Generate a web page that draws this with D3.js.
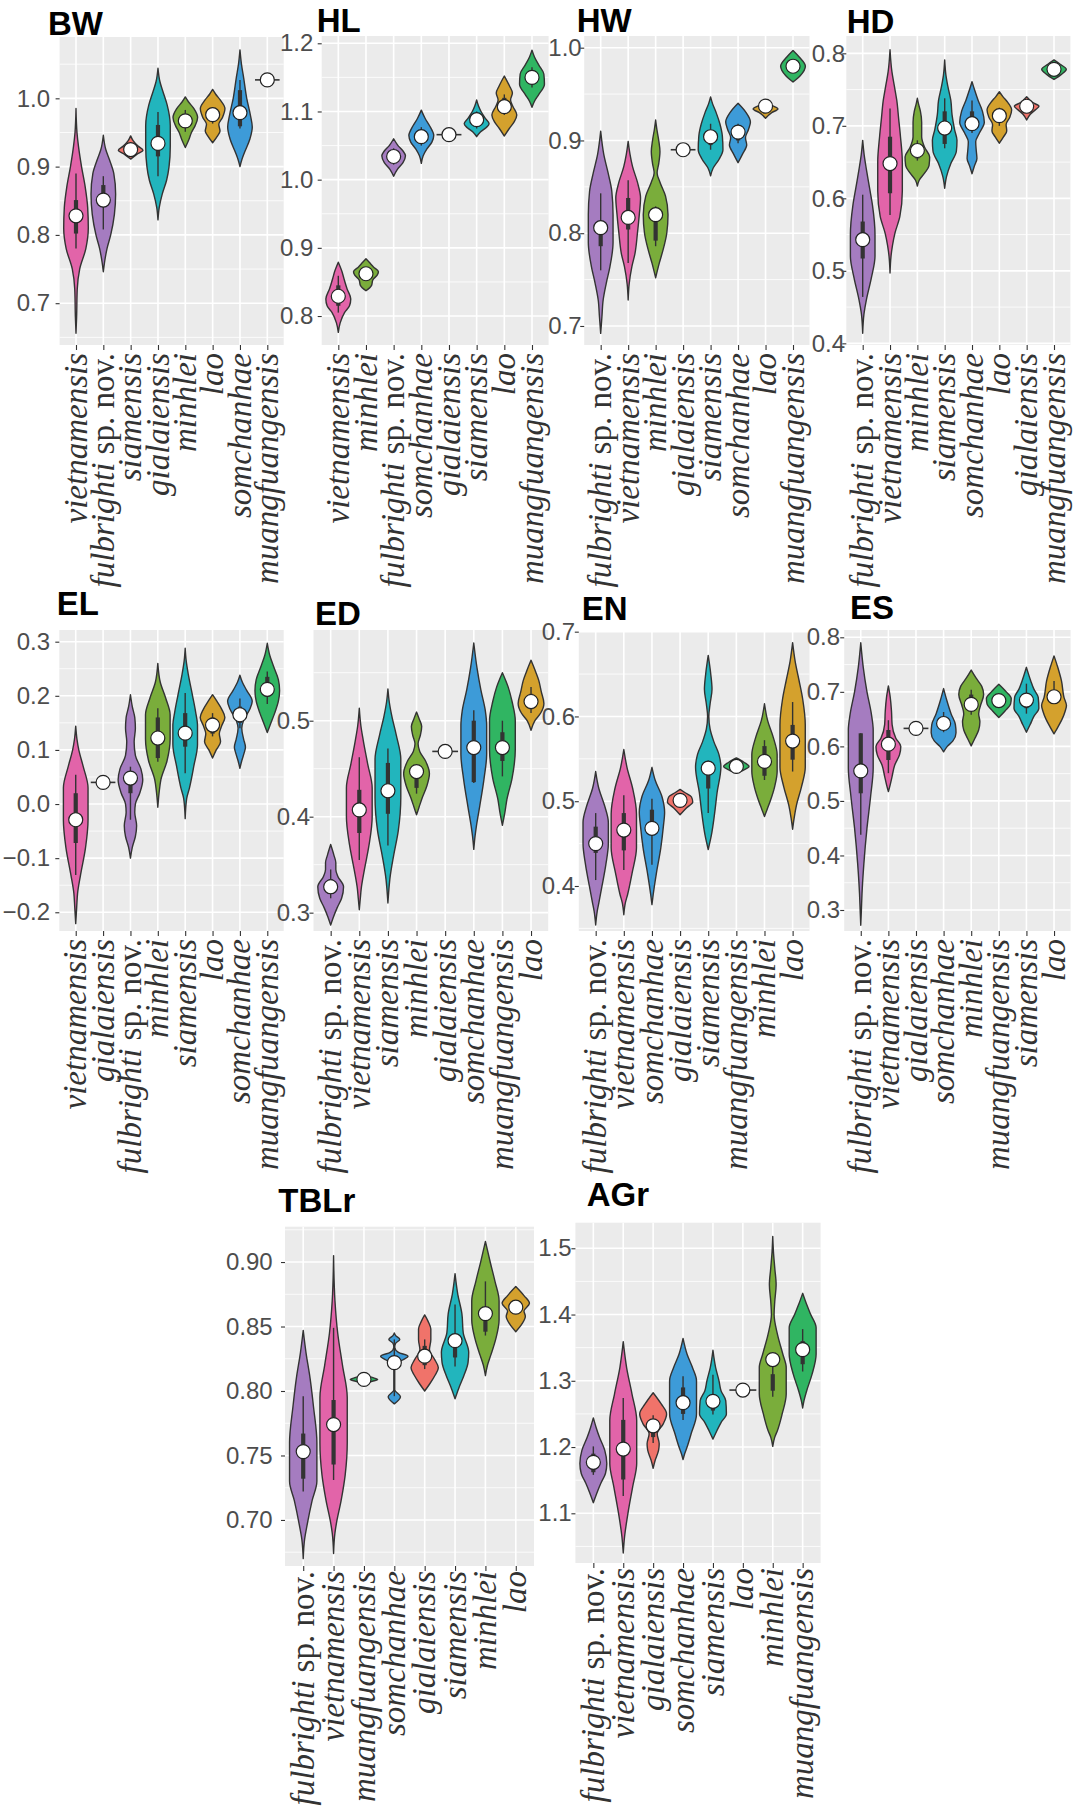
<!DOCTYPE html>
<html>
<head>
<meta charset="utf-8">
<script src="https://cdn.jsdelivr.net/npm/d3@7"></script>
<style>
body { margin: 0; background: #fff; }
</style>
</head>
<body>
<svg id="fig" width="1073" height="1811"></svg>
<script>
"use strict";

// fill colour of each species
var colours = {
	fulbrighti: "#a57cc0",
	vietnamensis: "#e264a9",
	siamensis: "#22b5bd",
	gialaiensis: "#f0736a",
	minhlei: "#7aad3b",
	lao: "#d4a12d",
	somchanhae: "#3d9bd8",
	muangfuangensis: "#30b562"
};

// one small set of arrays per trait.
// box = [whisker low, q1, q3, whisker high], shape = [value, relative width] from bottom tip to top tip
// a null shape is a single specimen, drawn as a short line
var BW = {
	species: ["vietnamensis", "fulbrighti", "siamensis", "gialaiensis", "minhlei", "lao", "somchanhae", "muangfuangensis"],
	fill: ["vietnamensis", "fulbrighti", "gialaiensis", "siamensis", "minhlei", "lao", "somchanhae", "muangfuangensis"],
	mean: [0.828, 0.851, 0.925, 0.934, 0.967, 0.976, 0.979, 1.027],
	box: [[0.780, 0.802, 0.851, 0.890], [0.808, 0.844, 0.873, 0.886], null, [0.886, 0.915, 0.961, 0.980],
		[0.951, 0.958, 0.975, 0.983], [0.963, 0.966, 0.982, 0.985], [0.956, 0.959, 1.012, 1.027], null],
	shape: [
		[[0.656,0],[0.68,0.05],[0.72,0.1],[0.75,0.3],[0.78,0.8],[0.81,1.0],[0.84,0.95],[0.87,0.75],[0.90,0.45],[0.93,0.2],[0.95,0.08],[0.985,0]],
		[[0.746,0],[0.76,0.1],[0.78,0.3],[0.80,0.6],[0.83,0.9],[0.86,1.0],[0.89,0.85],[0.91,0.5],[0.925,0.2],[0.946,0]],
		[[0.911,0],[0.918,0.5],[0.924,1.0],[0.93,0.6],[0.938,0.2],[0.945,0]],
		[[0.822,0],[0.84,0.1],[0.86,0.35],[0.88,0.7],[0.90,0.9],[0.93,1.0],[0.96,1.0],[0.99,0.75],[1.01,0.4],[1.025,0.15],[1.044,0]],
		[[0.928,0],[0.94,0.3],[0.95,0.5],[0.96,0.8],[0.972,1.0],[0.985,0.7],[0.995,0.25],[1.002,0]],
		[[0.935,0],[0.945,0.4],[0.952,0.6],[0.962,0.5],[0.972,0.8],[0.985,1.0],[0.998,0.6],[1.006,0.25],[1.013,0]],
		[[0.90,0],[0.91,0.15],[0.92,0.35],[0.94,0.8],[0.958,1.0],[0.975,0.85],[1.0,0.55],[1.03,0.3],[1.05,0.12],[1.071,0]],
		null
	]
};

var HL = {
	species: ["vietnamensis", "minhlei", "fulbrighti", "somchanhae", "gialaiensis", "siamensis", "lao", "muangfuangensis"],
	mean: [0.829, 0.862, 1.034, 1.063, 1.066, 1.088, 1.107, 1.150],
	box: [[0.805, 0.815, 0.845, 0.859], null, [1.022, 1.028, 1.040, 1.046], [1.050, 1.055, 1.070, 1.077],
		null, [1.075, 1.080, 1.095, 1.100], [1.095, 1.100, 1.120, 1.125], [1.135, 1.140, 1.158, 1.165]],
	shape: [
		[[0.776,0],[0.79,0.15],[0.805,0.5],[0.815,0.9],[0.825,1.0],[0.84,0.7],[0.855,0.45],[0.865,0.3],[0.879,0]],
		[[0.837,0],[0.845,0.45],[0.853,0.55],[0.86,0.9],[0.865,1.0],[0.872,0.6],[0.878,0.3],[0.884,0]],
		[[1.005,0],[1.015,0.3],[1.025,0.75],[1.035,0.95],[1.042,0.75],[1.05,0.35],[1.06,0]],
		[[1.024,0],[1.035,0.15],[1.045,0.45],[1.055,0.85],[1.065,1.0],[1.078,0.7],[1.09,0.3],[1.102,0]],
		null,
		[[1.063,0],[1.07,0.3],[1.076,0.75],[1.082,1.0],[1.09,0.7],[1.1,0.35],[1.108,0.15],[1.117,0]],
		[[1.064,0],[1.075,0.4],[1.085,0.8],[1.095,1.0],[1.107,0.7],[1.117,0.5],[1.127,0.65],[1.138,0.4],[1.152,0]],
		[[1.106,0],[1.115,0.2],[1.125,0.55],[1.14,1.0],[1.155,0.95],[1.168,0.55],[1.18,0.2],[1.19,0]]
	]
};

var HW = {
	species: ["fulbrighti", "vietnamensis", "minhlei", "gialaiensis", "siamensis", "somchanhae", "lao", "muangfuangensis"],
	mean: [0.806, 0.817, 0.820, 0.890, 0.904, 0.909, 0.937, 0.980],
	box: [[0.760, 0.786, 0.811, 0.843], [0.768, 0.804, 0.838, 0.857], [0.786, 0.792, 0.820, 0.829], null,
		[0.890, 0.895, 0.910, 0.918], [0.897, 0.900, 0.915, 0.918], null, null],
	shape: [
		[[0.692,0],[0.71,0.1],[0.728,0.2],[0.746,0.45],[0.764,0.75],[0.79,1.0],[0.82,1.0],[0.845,0.9],[0.865,0.6],[0.885,0.25],[0.91,0]],
		[[0.728,0],[0.745,0.08],[0.764,0.3],[0.778,0.55],[0.80,0.75],[0.82,0.9],[0.838,1.0],[0.855,0.75],[0.872,0.35],[0.885,0.15],[0.899,0]],
		[[0.752,0],[0.768,0.3],[0.782,0.6],[0.80,0.9],[0.82,1.0],[0.84,0.8],[0.855,0.35],[0.865,0.12],[0.875,0.25],[0.888,0.35],[0.90,0.25],[0.912,0.1],[0.922,0]],
		null,
		[[0.862,0],[0.87,0.2],[0.88,0.7],[0.89,1.0],[0.905,0.95],[0.918,0.75],[0.93,0.45],[0.94,0.15],[0.947,0]],
		[[0.876,0],[0.885,0.35],[0.895,0.7],[0.903,0.6],[0.912,0.85],[0.92,1.0],[0.93,0.65],[0.94,0]],
		[[0.924,0],[0.93,0.5],[0.934,1.0],[0.938,0.5],[0.944,0]],
		[[0.963,0],[0.97,0.6],[0.98,1.0],[0.99,0.5],[0.997,0]]
	]
};

var HD = {
	species: ["fulbrighti", "vietnamensis", "minhlei", "siamensis", "somchanhae", "lao", "gialaiensis", "muangfuangensis"],
	mean: [0.543, 0.648, 0.666, 0.697, 0.703, 0.714, 0.727, 0.778],
	box: [[0.464, 0.517, 0.568, 0.605], [0.577, 0.607, 0.685, 0.724], [0.652, 0.655, 0.675, 0.680],
		[0.669, 0.675, 0.720, 0.738], [0.690, 0.695, 0.720, 0.735], [0.700, 0.705, 0.720, 0.725], null, null],
	shape: [
		[[0.414,0],[0.44,0.1],[0.46,0.3],[0.49,0.7],[0.52,1.0],[0.55,1.0],[0.59,0.8],[0.615,0.55],[0.64,0.3],[0.66,0.12],[0.68,0]],
		[[0.497,0],[0.52,0.08],[0.535,0.2],[0.552,0.4],[0.575,0.8],[0.61,1.0],[0.65,1.0],[0.685,0.85],[0.71,0.7],[0.735,0.55],[0.755,0.35],[0.775,0.15],[0.805,0]],
		[[0.617,0],[0.625,0.15],[0.635,0.6],[0.645,0.95],[0.657,1.0],[0.67,0.6],[0.685,0.35],[0.705,0.35],[0.72,0.25],[0.73,0.1],[0.738,0]],
		[[0.614,0],[0.63,0.15],[0.648,0.5],[0.665,0.95],[0.68,1.0],[0.695,0.8],[0.715,0.6],[0.735,0.5],[0.755,0.25],[0.77,0.1],[0.791,0]],
		[[0.634,0],[0.645,0.2],[0.655,0.4],[0.665,0.35],[0.678,0.3],[0.69,0.6],[0.705,1.0],[0.72,0.85],[0.735,0.5],[0.75,0.2],[0.761,0]],
		[[0.676,0],[0.685,0.35],[0.693,0.6],[0.702,0.55],[0.712,0.85],[0.722,1.0],[0.732,0.7],[0.74,0.3],[0.747,0]],
		[[0.708,0],[0.716,0.3],[0.722,0.7],[0.727,1.0],[0.732,0.5],[0.74,0]],
		[[0.764,0],[0.771,0.6],[0.778,1.0],[0.785,0.5],[0.791,0]]
	]
};

var EL = {
	species: ["vietnamensis", "gialaiensis", "fulbrighti", "minhlei", "siamensis", "lao", "somchanhae", "muangfuangensis"],
	mean: [-0.029, 0.040, 0.048, 0.122, 0.131, 0.146, 0.165, 0.212],
	box: [[-0.131, -0.072, 0.020, 0.054], null, [-0.029, 0.020, 0.060, 0.069], [0.078, 0.085, 0.160, 0.177],
		[0.057, 0.106, 0.168, 0.205], [0.125, 0.130, 0.160, 0.168], [0.140, 0.150, 0.180, 0.195], [0.185, 0.198, 0.235, 0.245]],
	shape: [
		[[-0.221,0],[-0.19,0.08],[-0.165,0.15],[-0.13,0.4],[-0.08,0.8],[-0.03,1.0],[0.03,1.0],[0.07,0.6],[0.1,0.25],[0.12,0.1],[0.144,0]],
		null,
		[[-0.1,0],[-0.08,0.15],[-0.06,0.4],[-0.04,0.5],[-0.015,0.35],[0.0,0.4],[0.02,0.75],[0.045,1.0],[0.065,0.85],[0.09,0.4],[0.115,0.3],[0.14,0.4],[0.16,0.35],[0.18,0.15],[0.202,0]],
		[[-0.006,0],[0.02,0.1],[0.045,0.25],[0.08,0.75],[0.12,1.0],[0.165,1.0],[0.195,0.65],[0.225,0.2],[0.26,0]],
		[[-0.027,0],[0.01,0.12],[0.03,0.35],[0.07,0.7],[0.11,1.0],[0.145,1.0],[0.17,0.85],[0.2,0.6],[0.24,0.25],[0.265,0.08],[0.288,0]],
		[[0.085,0],[0.1,0.3],[0.115,0.65],[0.13,0.55],[0.145,0.75],[0.16,1.0],[0.175,0.75],[0.19,0.35],[0.202,0]],
		[[0.066,0],[0.08,0.15],[0.095,0.35],[0.105,0.45],[0.12,0.3],[0.14,0.15],[0.155,0.3],[0.175,0.8],[0.19,1.0],[0.21,0.55],[0.225,0.2],[0.238,0]],
		[[0.132,0],[0.15,0.3],[0.168,0.6],[0.19,0.9],[0.21,1.0],[0.23,0.9],[0.255,0.5],[0.275,0.2],[0.297,0]]
	]
};

var ED = {
	species: ["fulbrighti", "vietnamensis", "siamensis", "minhlei", "gialaiensis", "somchanhae", "muangfuangensis", "lao"],
	mean: [0.327, 0.407, 0.427, 0.447, 0.468, 0.472, 0.472, 0.520],
	box: [[0.315, 0.320, 0.335, 0.345], [0.355, 0.383, 0.428, 0.462], [0.370, 0.403, 0.456, 0.471], [0.424, 0.430, 0.440, 0.445],
		null, [0.435, 0.436, 0.500, 0.511], [0.442, 0.458, 0.488, 0.500], [0.508, 0.512, 0.528, 0.535]],
	shape: [
		[[0.287,0],[0.295,0.2],[0.305,0.5],[0.315,0.85],[0.327,1.0],[0.338,0.55],[0.345,0.4],[0.352,0.4],[0.36,0.25],[0.371,0]],
		[[0.303,0],[0.315,0.08],[0.325,0.15],[0.345,0.4],[0.37,0.75],[0.40,1.0],[0.43,1.0],[0.455,0.65],[0.48,0.3],[0.495,0.12],[0.513,0]],
		[[0.31,0],[0.325,0.08],[0.335,0.15],[0.36,0.45],[0.385,0.8],[0.42,1.0],[0.46,1.0],[0.485,0.65],[0.505,0.3],[0.52,0.1],[0.533,0]],
		[[0.402,0],[0.41,0.2],[0.42,0.45],[0.432,0.8],[0.445,1.0],[0.458,0.7],[0.468,0.25],[0.476,0.12],[0.485,0.3],[0.494,0.4],[0.502,0.2],[0.509,0]],
		null,
		[[0.366,0],[0.38,0.1],[0.39,0.2],[0.41,0.45],[0.44,0.8],[0.465,1.0],[0.495,1.0],[0.51,0.9],[0.532,0.55],[0.555,0.25],[0.581,0]],
		[[0.391,0],[0.405,0.2],[0.418,0.35],[0.44,0.75],[0.47,1.0],[0.50,1.0],[0.52,0.75],[0.535,0.45],[0.55,0]],
		[[0.49,0],[0.5,0.3],[0.508,0.75],[0.518,1.0],[0.53,0.8],[0.542,0.6],[0.553,0.3],[0.563,0]]
	]
};

var EN = {
	species: ["fulbrighti", "vietnamensis", "somchanhae", "gialaiensis", "siamensis", "muangfuangensis", "minhlei", "lao"],
	mean: [0.450, 0.466, 0.468, 0.501, 0.539, 0.541, 0.547, 0.571],
	box: [[0.407, 0.439, 0.470, 0.486], [0.419, 0.442, 0.486, 0.507], [0.425, 0.470, 0.490, 0.503], null,
		[0.486, 0.515, 0.535, 0.548], null, [0.525, 0.530, 0.565, 0.572], [0.535, 0.549, 0.590, 0.617]],
	shape: [
		[[0.354,0],[0.37,0.12],[0.38,0.25],[0.40,0.5],[0.425,0.8],[0.45,1.0],[0.475,1.0],[0.495,0.7],[0.515,0.25],[0.535,0]],
		[[0.366,0],[0.38,0.12],[0.39,0.3],[0.415,0.65],[0.445,1.0],[0.485,1.0],[0.515,0.7],[0.54,0.25],[0.561,0]],
		[[0.378,0],[0.39,0.1],[0.415,0.35],[0.445,0.7],[0.47,0.9],[0.487,1.0],[0.505,0.8],[0.525,0.25],[0.54,0]],
		[[0.484,0],[0.492,0.5],[0.499,1.0],[0.505,0.9],[0.51,0.4],[0.514,0]],
		[[0.443,0],[0.46,0.25],[0.485,0.5],[0.51,0.7],[0.54,1.0],[0.555,0.85],[0.57,0.45],[0.585,0.15],[0.6,0.05],[0.615,0.15],[0.632,0.3],[0.65,0.2],[0.672,0]],
		[[0.533,0],[0.537,0.6],[0.541,1.0],[0.546,0.6],[0.551,0]],
		[[0.482,0],[0.49,0.2],[0.5,0.45],[0.517,0.8],[0.535,1.0],[0.555,1.0],[0.575,0.7],[0.595,0.25],[0.615,0]],
		[[0.467,0],[0.48,0.12],[0.495,0.3],[0.517,0.7],[0.54,1.0],[0.59,1.0],[0.62,0.8],[0.643,0.5],[0.665,0.2],[0.687,0]]
	]
};

var ES = {
	species: ["fulbrighti", "vietnamensis", "gialaiensis", "somchanhae", "minhlei", "muangfuangensis", "siamensis", "lao"],
	mean: [0.555, 0.604, 0.633, 0.642, 0.677, 0.684, 0.685, 0.691],
	box: [[0.438, 0.514, 0.624, 0.624], [0.551, 0.575, 0.630, 0.648], null, [0.626, 0.630, 0.655, 0.663],
		[0.658, 0.665, 0.695, 0.704], [0.675, 0.678, 0.690, 0.695], [0.660, 0.670, 0.690, 0.715], [0.680, 0.685, 0.700, 0.720]],
	shape: [
		[[0.272,0],[0.3,0.05],[0.33,0.1],[0.385,0.25],[0.45,0.5],[0.51,0.8],[0.56,1.0],[0.63,1.0],[0.66,0.85],[0.70,0.5],[0.745,0.2],[0.79,0]],
		[[0.517,0],[0.53,0.15],[0.545,0.3],[0.565,0.5],[0.585,0.9],[0.6,1.0],[0.615,0.6],[0.64,0.3],[0.665,0.25],[0.69,0.15],[0.711,0]],
		null,
		[[0.59,0],[0.6,0.3],[0.61,0.75],[0.625,1.0],[0.64,0.95],[0.66,0.6],[0.685,0.25],[0.706,0]],
		[[0.601,0],[0.615,0.3],[0.63,0.6],[0.645,0.7],[0.66,0.6],[0.675,0.75],[0.695,1.0],[0.71,0.85],[0.725,0.4],[0.74,0]],
		[[0.653,0],[0.665,0.5],[0.678,0.95],[0.688,1.0],[0.7,0.6],[0.714,0]],
		[[0.626,0],[0.64,0.3],[0.655,0.6],[0.67,1.0],[0.69,0.95],[0.705,0.6],[0.72,0.35],[0.745,0]],
		[[0.623,0],[0.635,0.3],[0.65,0.65],[0.665,0.9],[0.675,1.0],[0.69,0.8],[0.72,0.6],[0.745,0.3],[0.766,0]]
	]
};

var TBLr = {
	species: ["fulbrighti", "vietnamensis", "muangfuangensis", "somchanhae", "gialaiensis", "siamensis", "minhlei", "lao"],
	mean: [0.753, 0.774, 0.809, 0.822, 0.827, 0.839, 0.860, 0.865],
	box: [[0.722, 0.732, 0.767, 0.796], [0.731, 0.743, 0.793, 0.849], null, [0.796, 0.820, 0.826, 0.840],
		[0.817, 0.820, 0.835, 0.840], [0.819, 0.826, 0.836, 0.867], [0.843, 0.846, 0.864, 0.885], null],
	shape: [
		[[0.670,0],[0.685,0.1],[0.697,0.3],[0.715,0.65],[0.73,1.0],[0.76,1.0],[0.788,0.75],[0.81,0.5],[0.83,0.2],[0.847,0]],
		[[0.674,0],[0.69,0.1],[0.697,0.2],[0.715,0.55],[0.735,0.85],[0.76,1.0],[0.795,1.0],[0.82,0.65],[0.845,0.3],[0.87,0.1],[0.905,0]],
		[[0.8055,0],[0.8075,0.6],[0.809,1.0],[0.8105,0.6],[0.8125,0]],
		[[0.790,0],[0.7955,0.45],[0.801,0.03],[0.82,0.03],[0.824,0.6],[0.827,1.0],[0.830,0.3],[0.834,0.03],[0.837,0.1],[0.840,0.4],[0.843,0.1],[0.845,0]],
		[[0.80,0],[0.806,0.4],[0.812,0.75],[0.818,1.0],[0.825,0.7],[0.832,0.35],[0.84,0.45],[0.848,0.45],[0.854,0.25],[0.859,0]],
		[[0.794,0],[0.803,0.3],[0.812,0.65],[0.822,0.95],[0.83,1.0],[0.845,0.6],[0.86,0.5],[0.875,0.2],[0.891,0]],
		[[0.812,0],[0.82,0.15],[0.828,0.4],[0.84,0.75],[0.855,1.0],[0.87,1.0],[0.885,0.7],[0.9,0.35],[0.916,0]],
		[[0.846,0],[0.852,0.45],[0.858,0.7],[0.862,0.6],[0.868,1.0],[0.874,0.6],[0.881,0]]
	]
};

var AGr = {
	species: ["fulbrighti", "vietnamensis", "gialaiensis", "somchanhae", "siamensis", "lao", "minhlei", "muangfuangensis"],
	mean: [1.177, 1.197, 1.232, 1.267, 1.269, 1.286, 1.332, 1.347],
	box: [[1.158, 1.162, 1.190, 1.201], [1.126, 1.151, 1.241, 1.274], [1.206, 1.215, 1.240, 1.248], [1.241, 1.250, 1.290, 1.307],
		[1.249, 1.255, 1.280, 1.309], null, [1.276, 1.285, 1.310, 1.337], [1.314, 1.325, 1.360, 1.378]],
	shape: [
		[[1.116,0],[1.13,0.25],[1.145,0.55],[1.16,0.9],[1.175,1.0],[1.195,0.85],[1.215,0.45],[1.23,0.2],[1.244,0]],
		[[1.04,0],[1.065,0.1],[1.1,0.35],[1.14,0.7],[1.175,1.0],[1.24,1.0],[1.28,0.65],[1.32,0.25],[1.359,0]],
		[[1.168,0],[1.18,0.15],[1.195,0.4],[1.205,0.45],[1.22,0.3],[1.235,0.75],[1.25,1.0],[1.265,0.6],[1.282,0]],
		[[1.181,0],[1.19,0.12],[1.2,0.3],[1.22,0.6],[1.25,1.0],[1.30,1.0],[1.32,0.7],[1.34,0.3],[1.364,0]],
		[[1.212,0],[1.225,0.3],[1.237,0.6],[1.25,1.0],[1.27,0.95],[1.285,0.6],[1.3,0.45],[1.32,0.2],[1.346,0]],
		null,
		[[1.201,0],[1.215,0.15],[1.225,0.35],[1.25,0.7],[1.28,1.0],[1.32,1.0],[1.34,0.75],[1.37,0.35],[1.40,0.1],[1.42,0.15],[1.445,0.25],[1.47,0.15],[1.495,0.05],[1.518,0]],
		[[1.259,0],[1.27,0.1],[1.285,0.3],[1.31,0.7],[1.34,1.0],[1.38,1.0],[1.4,0.6],[1.415,0.3],[1.432,0]]
	]
};

// axis ticks per trait
var ticksBW = [0.7, 0.8, 0.9, 1.0];
var ticksHL = [0.8, 0.9, 1.0, 1.1, 1.2];
var ticksHW = [0.7, 0.8, 0.9, 1.0];
var ticksHD = [0.4, 0.5, 0.6, 0.7, 0.8];
var ticksEL = [-0.2, -0.1, 0.0, 0.1, 0.2, 0.3];
var ticksED = [0.3, 0.4, 0.5];
var ticksEN = [0.4, 0.5, 0.6, 0.7];
var ticksES = [0.3, 0.4, 0.5, 0.6, 0.7, 0.8];
var ticksTBLr = [0.70, 0.75, 0.80, 0.85, 0.90];
var ticksAGr = [1.1, 1.2, 1.3, 1.4, 1.5];

// where each panel sits: rect [x0, x1, y0, y1], y domain [bottom, top], label gap, title x/y,
// x-label size and offset of the label ends below the panel
var panels = [
	{ title: "BW", d: BW, ticks: ticksBW, fmt: ".1f", rect: [59.6, 283.7, 37, 345], dom: [0.6388, 1.0898], gap: 9.6, tx: 48, ty: 35, lab: 33, off: 8 },
	{ title: "HL", d: HL, ticks: ticksHL, fmt: ".1f", rect: [321.7, 548.6, 36, 345], dom: [0.7575, 1.2107], gap: 8.4, tx: 316.7, ty: 32, lab: 33, off: 8 },
	{ title: "HW", d: HW, ticks: ticksHW, fmt: ".1f", rect: [584.2, 809.5, 36, 345], dom: [0.6795, 1.0126], gap: 2.5, tx: 576.7, ty: 32, lab: 33, off: 8 },
	{ title: "HD", d: HD, ticks: ticksHD, fmt: ".1f", rect: [846.3, 1070.4, 36, 345], dom: [0.3977, 0.8239], gap: 1.3, tx: 846.7, ty: 33.3, lab: 33, off: 8 },
	{ title: "EL", d: EL, ticks: ticksEL, fmt: ".1f", rect: [59.3, 283.7, 630, 931], dom: [-0.2346, 0.3216], gap: 9.3, tx: 56.7, ty: 615, lab: 33, off: 8 },
	{ title: "ED", d: ED, ticks: ticksED, fmt: ".1f", rect: [313.5, 548.2, 630, 931], dom: [0.2809, 0.5945], gap: 3.5, tx: 315, ty: 625, lab: 33, off: 8 },
	{ title: "EN", d: EN, ticks: ticksEN, fmt: ".1f", rect: [578.8, 809.5, 631, 931], dom: [0.3469, 0.7008], gap: 3.8, tx: 581.7, ty: 620, lab: 33, off: 8 },
	{ title: "ES", d: ES, ticks: ticksES, fmt: ".1f", rect: [844.2, 1070.6, 630, 931], dom: [0.2615, 0.8134], gap: 4.2, tx: 850, ty: 619.3, lab: 33, off: 8 },
	{ title: "TBLr", d: TBLr, ticks: ticksTBLr, fmt: ".2f", rect: [285, 534, 1226.7, 1566], dom: [0.6643, 0.9274], gap: 12.3, tx: 278.3, ty: 1211.7, lab: 33, off: 5 },
	{ title: "AGr", d: AGr, ticks: ticksAGr, fmt: ".1f", rect: [575.4, 820.6, 1222.7, 1563], dom: [1.0250, 1.5386], gap: 3.7, tx: 586.7, ty: 1206, lab: 33, off: 5 }
];

var svg = d3.select("#fig");

function drawPanel(p) {
	var x0 = p.rect[0], x1 = p.rect[1], y0 = p.rect[2], y1 = p.rect[3];
	var d = p.d;
	var idx = d.species.map(function(s, i) { return i; });

	var x = d3.scalePoint().domain(idx).range([x0, x1]).padding(0.6);
	var y = d3.scaleLinear().domain(p.dom).range([y1, y0]);
	var half = 0.45 * x.step();

	var g = svg.append("g");

	// panel background and grid
	g.append("rect")
		.attr("x", x0).attr("y", y0)
		.attr("width", x1 - x0).attr("height", y1 - y0)
		.attr("fill", "#ebebeb");

	var tstep = p.ticks[1] - p.ticks[0];
	var minor = [];
	for (var i = -1; i < p.ticks.length; i++) {
		var v = p.ticks[0] + (i + 0.5) * tstep;
		if (v > p.dom[0] && v < p.dom[1]) minor.push(v);
	}
	g.selectAll(".minor").data(minor).enter().append("line")
		.attr("x1", x0).attr("x2", x1)
		.attr("y1", function(v) { return y(v); }).attr("y2", function(v) { return y(v); })
		.attr("stroke", "#fff").attr("stroke-width", 0.8);
	g.selectAll(".major").data(p.ticks).enter().append("line")
		.attr("x1", x0).attr("x2", x1)
		.attr("y1", function(v) { return y(v); }).attr("y2", function(v) { return y(v); })
		.attr("stroke", "#fff").attr("stroke-width", 1.6);
	g.selectAll(".vgrid").data(idx).enter().append("line")
		.attr("x1", function(i) { return x(i); }).attr("x2", function(i) { return x(i); })
		.attr("y1", y0).attr("y2", y1)
		.attr("stroke", "#fff").attr("stroke-width", 1.6);

	// y axis
	var ya = g.append("g")
		.attr("transform", "translate(" + x0 + ",0)")
		.call(d3.axisLeft(y).tickValues(p.ticks).tickFormat(d3.format(p.fmt)).tickSize(4).tickPadding(p.gap - 4));
	ya.select(".domain").remove();
	ya.selectAll(".tick line").attr("stroke", "#333").attr("stroke-width", 1.1);
	ya.selectAll(".tick text")
		.attr("fill", "#4d4d4d")
		.style("font", "24px 'Liberation Sans', Arial, sans-serif");

	// x axis ticks and rotated species names
	var xa = g.append("g")
		.attr("transform", "translate(0," + y1 + ")")
		.call(d3.axisBottom(x).tickSize(5).tickFormat(""));
	xa.select(".domain").remove();
	xa.selectAll(".tick line").attr("stroke", "#333").attr("stroke-width", 1.1);

	var labEnd = y1 + p.off;
	d.species.forEach(function(s, i) {
		var t = g.append("text")
			.attr("transform", "translate(" + x(i) + "," + labEnd + ") rotate(-90)")
			.attr("text-anchor", "end")
			.attr("dy", "0.32em")
			.attr("fill", "#333")
			.style("font-family", "'Liberation Serif', 'Times New Roman', serif")
			.style("font-size", p.lab + "px");
		if (s === "fulbrighti") {
			t.append("tspan").attr("font-style", "italic").text("fulbrighti");
			t.append("tspan").attr("font-style", "normal").text(" sp. nov.");
		} else {
			t.append("tspan").attr("font-style", "italic").text(s);
		}
	});

	// violins
	d.species.forEach(function(s, i) {
		var cx = x(i);
		var col = colours[(d.fill || d.species)[i]];
		var shape = d.shape[i];
		if (shape) {
			var area = d3.area()
				.curve(d3.curveMonotoneY)
				.y(function(q) { return y(q[0]); })
				.x0(function(q) { return cx - q[1] * half; })
				.x1(function(q) { return cx + q[1] * half; });
			g.append("path")
				.attr("d", area(shape))
				.attr("fill", col)
				.attr("stroke", "#333")
				.attr("stroke-width", 1.4)
				.attr("stroke-linejoin", "round");
		} else {
			g.append("line")
				.attr("x1", cx - half).attr("x2", cx + half)
				.attr("y1", y(d.mean[i])).attr("y2", y(d.mean[i]))
				.attr("stroke", "#333").attr("stroke-width", 1.6);
		}
		var b = d.box[i];
		if (b) {
			g.append("line")
				.attr("x1", cx).attr("x2", cx)
				.attr("y1", y(b[0])).attr("y2", y(b[3]))
				.attr("stroke", "#333").attr("stroke-width", 1.4);
			g.append("line")
				.attr("x1", cx).attr("x2", cx)
				.attr("y1", y(b[1])).attr("y2", y(b[2]))
				.attr("stroke", "#333").attr("stroke-width", 4.2);
		}
		g.append("circle")
			.attr("cx", cx).attr("cy", y(d.mean[i]))
			.attr("r", 7)
			.attr("fill", "#fff")
			.attr("stroke", "#222")
			.attr("stroke-width", 1.2);
	});

	// panel title
	svg.append("text")
		.attr("x", p.tx).attr("y", p.ty)
		.attr("fill", "#000")
		.style("font", "bold 33px 'Liberation Sans', Arial, sans-serif")
		.text(p.title);
}

panels.forEach(drawPanel);
</script>
</body>
</html>
